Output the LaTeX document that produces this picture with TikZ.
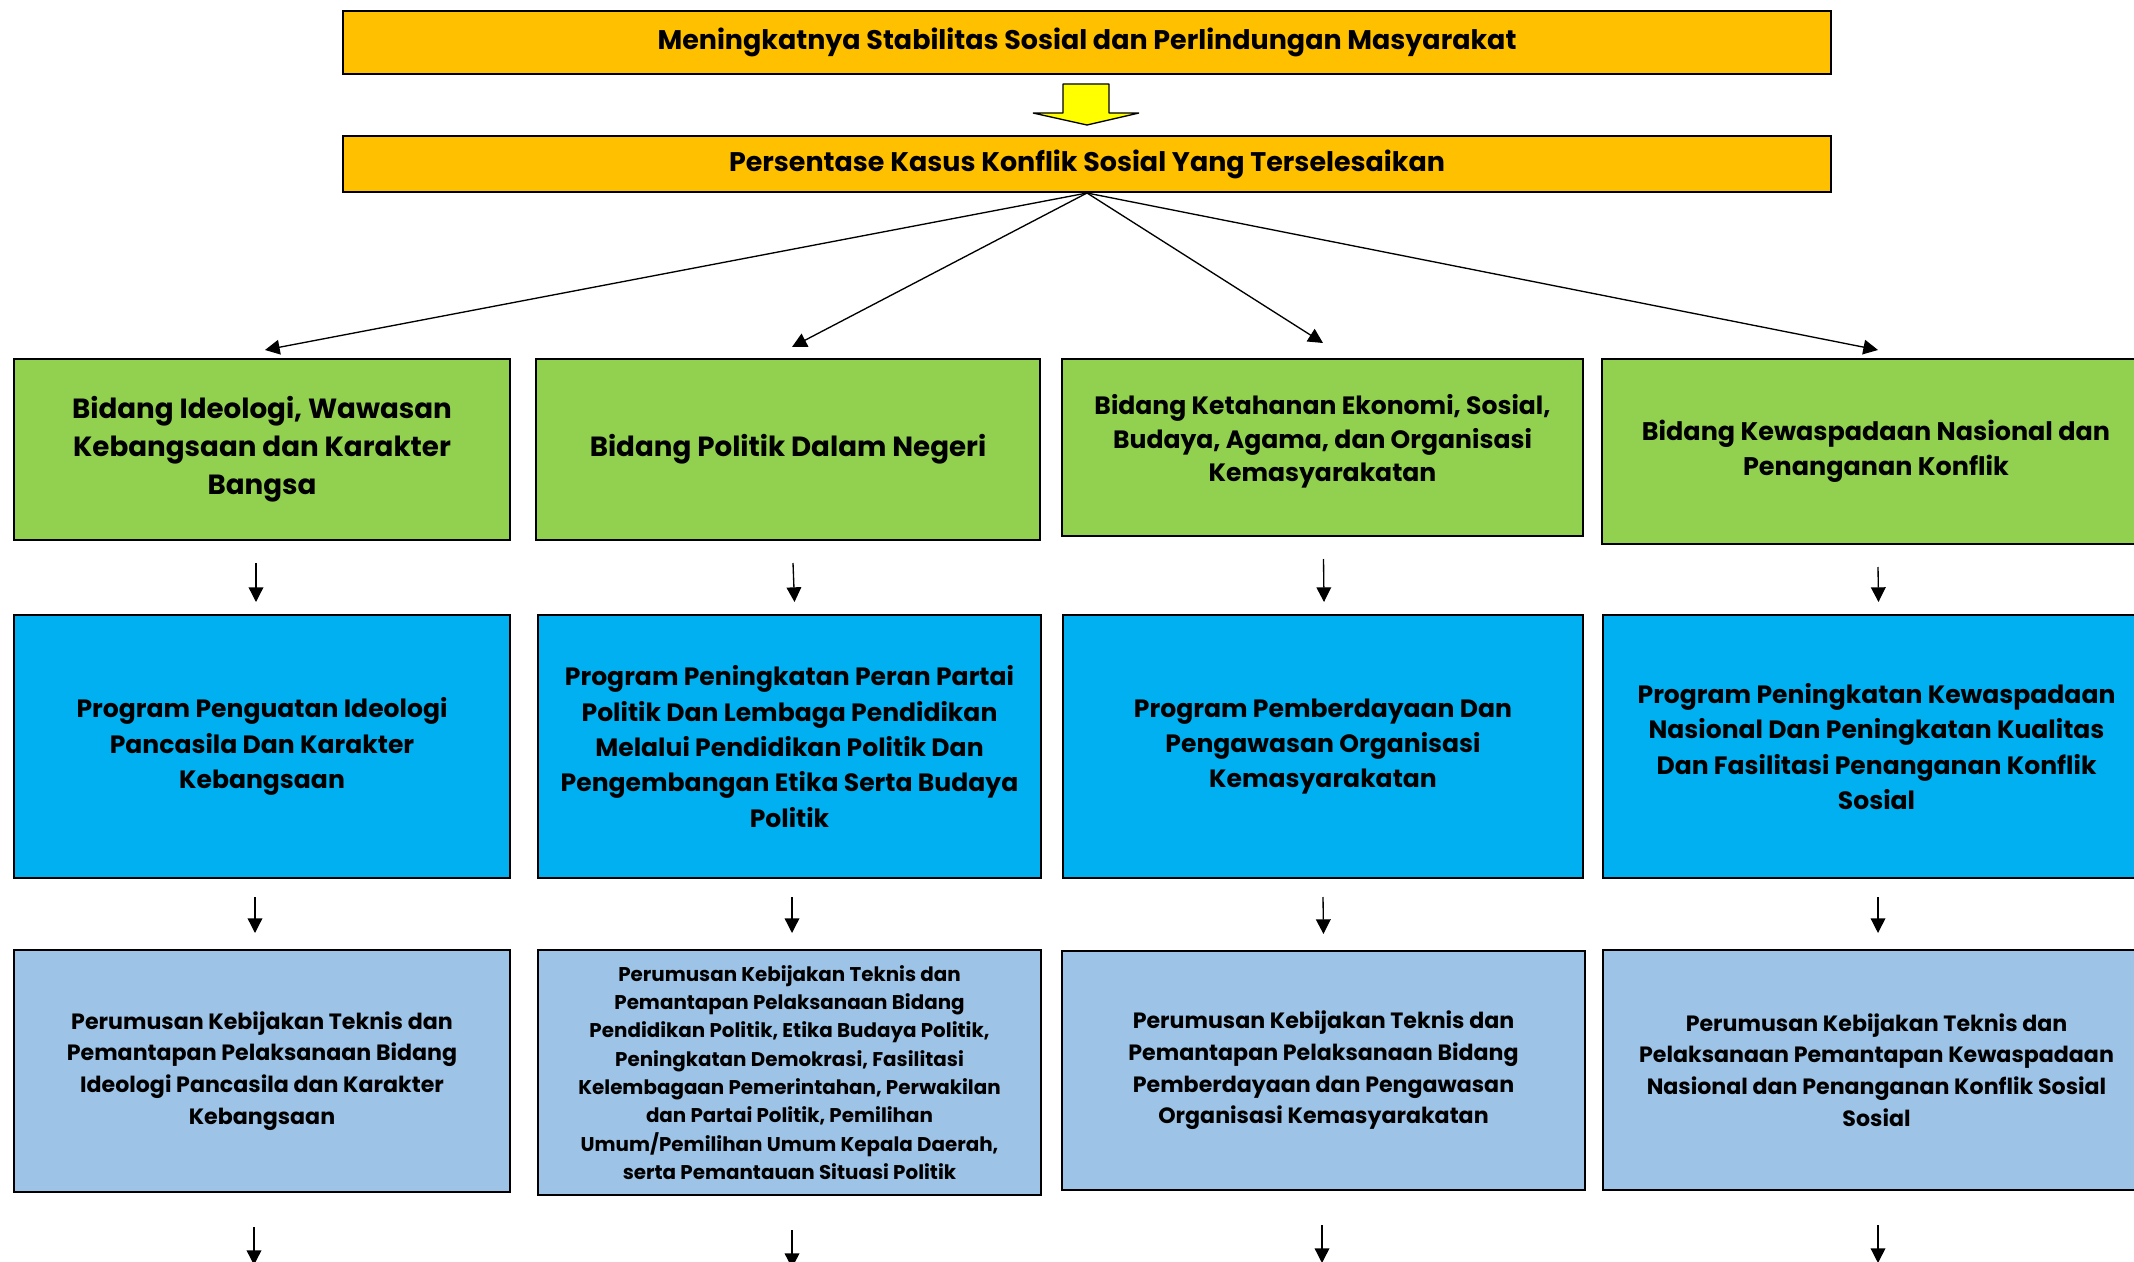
\documentclass[tikz,border=0pt]{standalone}
\usepackage{fontspec}
\setmainfont{Poppins}
\usetikzlibrary{arrows.meta,calc}
\definecolor{orangebox}{HTML}{FFC000}
\definecolor{yellowarrow}{HTML}{FFFF00}
\definecolor{greenbox}{HTML}{92D050}
\definecolor{bluebox}{HTML}{00B0F0}
\definecolor{lightbox}{HTML}{9DC3E6}
\tikzset{
  bx/.style n args={3}{draw=black, line width=1.5pt, fill=#1,
    minimum width=#2*0.75pt, minimum height=#3*0.75pt, inner sep=0pt,
    align=center},
  ftitle/.style={font=\fontsize{20.2}{24}\selectfont\bfseries},
  fgreen/.style={font=\fontsize{20.8}{28.5}\selectfont\bfseries},
  fgreensm/.style={font=\fontsize{18.8}{25}\selectfont\bfseries},
  fgreenmd/.style={font=\fontsize{19.1}{26.5}\selectfont\bfseries},
  fblue/.style={font=\fontsize{18.8}{26.5}\selectfont\bfseries},
  flight/.style={font=\fontsize{16.6}{23.8}\selectfont\bfseries},
  flightsm/.style={font=\fontsize{14.9}{21.2}\selectfont\bfseries},
  arr/.style={line width=1pt, -{Triangle[width=11pt,length=11pt]}},
}
\begin{document}
\begin{tikzpicture}[x=0.75pt,y=-0.75pt]
\useasboundingbox (0,0) rectangle (2134,1262);
\fill[white] (0,0) rectangle (2134,1262);

% titles
\node[bx={orangebox}{1488}{63}, ftitle] (T1) at (1087,42.5)
  {Meningkatnya Stabilitas Sosial dan Perlindungan Masyarakat};
\node[bx={orangebox}{1488}{56}, ftitle] (T2) at (1087,164)
  {Persentase Kasus Konflik Sosial Yang Terselesaikan};

% block arrow
\draw[line width=1pt, fill=yellowarrow, line join=bevel]
  (1063,84) -- (1109,84) -- (1109,113) -- (1139,113) -- (1087,125)
  -- (1033,113) -- (1063,113) -- cycle;

% green row
\node[bx={greenbox}{496}{181}, fgreen] (G1) at (262,449.5)
  {Bidang Ideologi, Wawasan\\Kebangsaan dan Karakter\\Bangsa};
\node[bx={greenbox}{504}{181}, fgreen] (G2) at (788,449.5)
  {Bidang Politik Dalam Negeri};
\node[bx={greenbox}{521}{177}, fgreensm, text depth=14pt] (G3) at (1322.5,447.5)
  {Bidang Ketahanan Ekonomi, Sosial,\\Budaya, Agama, dan Organisasi\\Kemasyarakatan};
\node[bx={greenbox}{548}{185}, fgreenmd] (G4) at (1876,451.5)
  {Bidang Kewaspadaan Nasional dan\\Penanganan Konflik};

% blue row
\node[bx={bluebox}{496}{263}, fblue] (B1) at (262,746.5)
  {Program Penguatan Ideologi\\Pancasila Dan Karakter\\Kebangsaan};
\node[bx={bluebox}{503}{263}, fblue] (B2) at (789.5,746.5)
  {Program Peningkatan Peran Partai\\Politik Dan Lembaga Pendidikan\\Melalui Pendidikan Politik Dan\\Pengembangan Etika Serta Budaya\\Politik};
\node[bx={bluebox}{520}{263}, fblue] (B3) at (1323,746.5)
  {Program Pemberdayaan Dan\\Pengawasan Organisasi\\Kemasyarakatan};
\node[bx={bluebox}{547}{263}, fblue] (B4) at (1876.5,746.5)
  {Program Peningkatan Kewaspadaan\\Nasional Dan Peningkatan Kualitas\\Dan Fasilitasi Penanganan Konflik\\Sosial};

% light row
\node[bx={lightbox}{496}{242}, flight] (L1) at (262,1071)
  {Perumusan Kebijakan Teknis dan\\Pemantapan Pelaksanaan Bidang\\Ideologi Pancasila dan Karakter\\Kebangsaan};
\node[bx={lightbox}{503}{245}, flightsm] (L2) at (789.5,1072.5)
  {Perumusan Kebijakan Teknis dan\\Pemantapan Pelaksanaan Bidang\\Pendidikan Politik, Etika Budaya Politik,\\Peningkatan Demokrasi, Fasilitasi\\Kelembagaan Pemerintahan, Perwakilan\\dan Partai Politik, Pemilihan\\Umum/Pemilihan Umum Kepala Daerah,\\serta Pemantauan Situasi Politik};
\node[bx={lightbox}{523}{239}, flight] (L3) at (1323.5,1070.5)
  {Perumusan Kebijakan Teknis dan\\Pemantapan Pelaksanaan Bidang\\Pemberdayaan dan Pengawasan\\Organisasi Kemasyarakatan};
\node[bx={lightbox}{547}{240}, flight] (L4) at (1876.5,1070)
  {Perumusan Kebijakan Teknis dan\\Pelaksanaan Pemantapan Kewaspadaan\\Nasional dan Penanganan Konflik Sosial\\Sosial};

% diagonal connectors
\draw[arr] (T2.south) -- ($(G1.north)+(3,-8)$);
\draw[arr] (T2.south) -- ($(G2.north)+(4,-11)$);
\draw[arr] (T2.south) -- ($(G3.north)+(0.5,-15)$);
\draw[arr] (T2.south) -- ($(G4.north)+(2,-8)$);

% vertical connectors
\foreach \g/\b/\dx in {G1/B1/-6, G2/B2/5, G3/B3/1, G4/B4/2} {
  \draw[arr] ($(\g.south)+(\dx,22)$) -- ($(\b.north)+(\dx,-12)$);
}
\foreach \b/\l/\dx in {B1/L1/-7, B2/L2/2.5, B3/L3/0, B4/L4/1.5} {
  \draw[arr] ($(\b.south)+(\dx,18)$) -- ($(\l.north)+(\dx,-16)$);
}
\foreach \l/\dx in {L1/-8, L2/2.5, L3/-1.5, L4/1.5} {
  \coordinate (\l end) at ($(\l.south)+(\dx,72)$);
  \draw[arr] ($(\l.south)+(\dx,34)$) -- (\l end);
}
\end{tikzpicture}
\end{document}
